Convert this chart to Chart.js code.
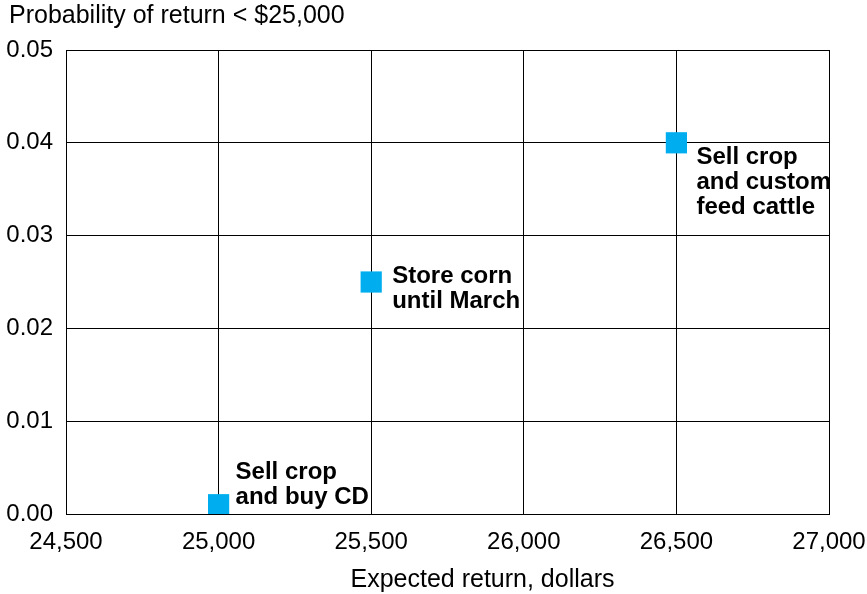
<!DOCTYPE html>
<html>
<head>
<meta charset="utf-8">
<script src="https://cdn.jsdelivr.net/npm/chart.js@4/dist/chart.umd.min.js"></script>
<style>
  html, body { margin: 0; padding: 0; background: #fff; }
  #wrap { width: 867px; height: 594px; position: relative; }
</style>
</head>
<body>
<div id="wrap"><canvas id="c" width="867" height="594"></canvas></div>
<script>
// ---- Data ----
const strategies = ["Sell crop and buy CD", "Store corn until March", "Sell crop and custom feed cattle"];
const expectedReturn = [25000, 25500, 26500];
const probBelow25k = [0.001, 0.025, 0.04];
const pointLabels = [
  ["Sell crop", "and buy CD"],
  ["Store corn", "until March"],
  ["Sell crop", "and custom", "feed cattle"]
];
const xTickValues = [24500, 25000, 25500, 26000, 26500, 27000];
const yTickValues = [0, 0.01, 0.02, 0.03, 0.04, 0.05];
const yAxisTitle = "Probability of return < $25,000";
const xAxisTitle = "Expected return, dollars";

// label placement (offset from point, px): [dx, dy of first baseline]
const labelOffsets = [[17, -26], [21, 1], [20, 21]];

const FONT = "'Liberation Sans', Arial, sans-serif";

const labelPlugin = {
  id: 'pointLabels',
  afterDatasetsDraw(chart) {
    const ctx = chart.ctx;
    const xs = chart.scales.x, ys = chart.scales.y;
    ctx.save();
    ctx.fillStyle = '#000';
    ctx.font = "bold 24px " + FONT;
    ctx.textAlign = 'left';
    ctx.textBaseline = 'alphabetic';
    pointLabels.forEach((lines, i) => {
      const px = xs.getPixelForValue(expectedReturn[i]);
      const py = ys.getPixelForValue(probBelow25k[i]);
      lines.forEach((ln, j) => {
        ctx.fillText(ln, px + labelOffsets[i][0], py + labelOffsets[i][1] + j * 25);
      });
    });
    ctx.restore();
  },
  afterDraw(chart) {
    const ctx = chart.ctx;
    const area = chart.chartArea;
    ctx.save();
    ctx.fillStyle = '#000';
    ctx.font = "25px " + FONT;
    ctx.textBaseline = 'alphabetic';
    ctx.textAlign = 'left';
    ctx.fillText(yAxisTitle, 9, 23);
    ctx.textAlign = 'center';
    ctx.fillText(xAxisTitle, (area.left + area.right) / 2 + 35, 587);
    ctx.restore();
  }
};

new Chart(document.getElementById('c'), {
  type: 'scatter',
  data: {
    datasets: [{
      label: 'Strategies',
      data: expectedReturn.map((x, i) => ({ x: x, y: probBelow25k[i] })),
      pointStyle: 'rect',
      pointRadius: 15,
      pointHoverRadius: 15,
      backgroundColor: '#00AEEF',
      borderWidth: 0
    }]
  },
  options: {
    responsive: false,
    animation: false,
    devicePixelRatio: 1,
    layout: { padding: { top: 50, right: 38, left: 0, bottom: 0 } },
    plugins: { legend: { display: false }, tooltip: { enabled: false } },
    scales: {
      x: {
        type: 'linear',
        min: 24500, max: 27000,
        afterBuildTicks: (s) => { s.ticks = xTickValues.map(v => ({ value: v })); },
        afterFit: (s) => { s.height = 80; s.paddingLeft = 0; s.paddingRight = 0; },
        grid: { color: '#000', lineWidth: 1, drawTicks: false },
        border: { color: '#000', width: 1 },
        ticks: {
          color: '#000',
          font: { family: FONT, size: 24 },
          padding: 14,
          maxRotation: 0,
          autoSkip: false,
          callback: (v) => v.toLocaleString('en-US')
        }
      },
      y: {
        type: 'linear',
        min: 0, max: 0.05,
        afterBuildTicks: (s) => { s.ticks = yTickValues.map(v => ({ value: v })); },
        afterFit: (s) => { s.width = 66; s.paddingTop = 0; s.paddingBottom = 0; },
        grid: { color: '#000', lineWidth: 1, drawTicks: false },
        border: { color: '#000', width: 1 },
        ticks: {
          color: '#000',
          font: { family: FONT, size: 24 },
          padding: 13,
          autoSkip: false,
          callback: (v) => Number(v).toFixed(2)
        }
      }
    }
  },
  plugins: [labelPlugin]
});
</script>
</body>
</html>
